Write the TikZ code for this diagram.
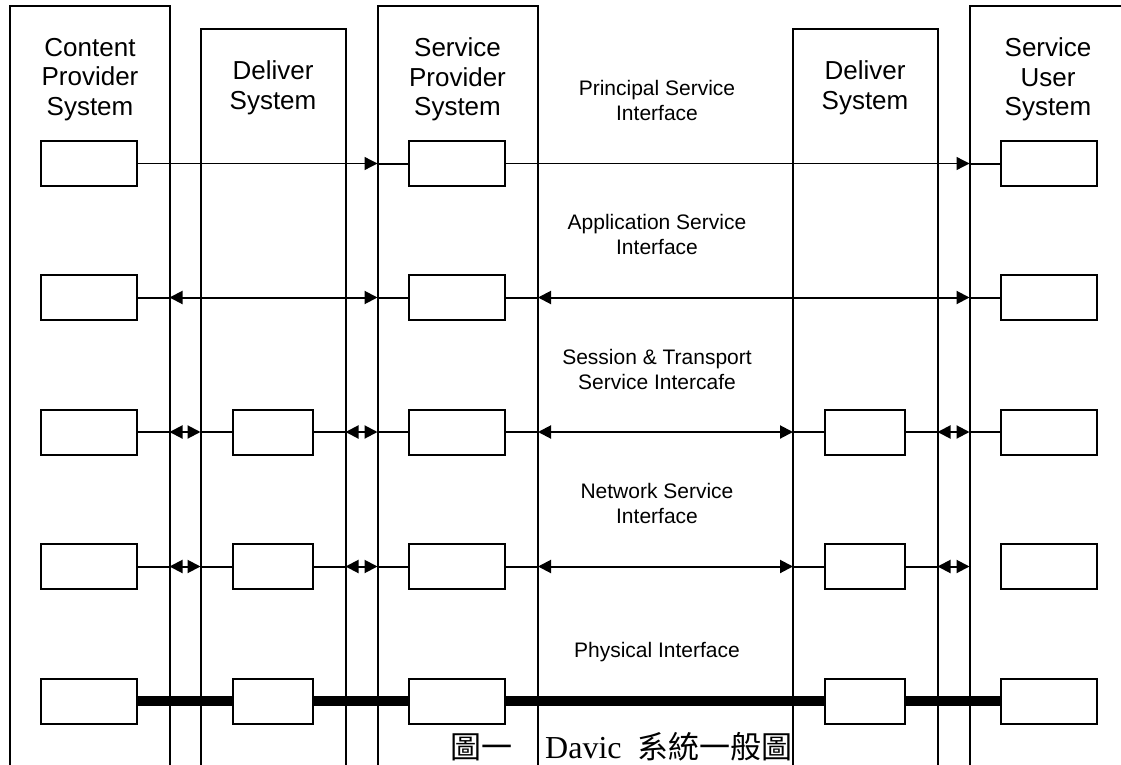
\documentclass[tikz,border=0pt]{standalone}
\usepackage{fontspec}
\setmainfont{Liberation Sans}
\newfontfamily\latinserif{Liberation Serif}
\newfontfamily\cjk{Noto Sans CJK TC}
\usetikzlibrary{arrows.meta}

\begin{document}
\begin{tikzpicture}[x=1pt, y=-1pt,
  frame/.style={draw, line width=2pt, anchor=north west, inner sep=0pt, outer sep=0pt, minimum height=820pt},
  unit/.style={draw, fill=white, line width=2pt, inner sep=0pt, outer sep=0pt, minimum height=45pt},
  wide/.style={unit, minimum width=96pt},
  narrow/.style={unit, minimum width=80pt},
  head/.style={align=center, font=\fontsize{26}{29.5}\selectfont, inner sep=0pt},
  iface/.style={align=center, font=\fontsize{21}{25}\selectfont, inner sep=0pt},
  link/.style={line width=2pt},
  thinlink/.style={line width=1.3pt},
  oneway/.style={-{Triangle[length=13pt,width=13pt]}},
  twoway/.style={{Triangle[length=13pt,width=13pt]}-{Triangle[length=13pt,width=13pt]}},
  bus/.style={line width=10pt}
]
\useasboundingbox (0,0) rectangle (1121,765);
\clip (0,0) rectangle (1121,765);

% system columns
\node[frame, minimum width=160pt]   (cp) at (9.5,6)   {};
\node[frame, minimum width=145pt]   (dl) at (200.5,29) {};
\node[frame, minimum width=160.5pt] (sp) at (377.5,6) {};
\node[frame, minimum width=144.5pt] (dr) at (793,29)  {};
\node[frame, minimum width=300pt]   (su) at (969.5,6) {};

% column titles
\node[head] (tcp) at (90,79.5)   {Content\\Provider\\System};
\node[head] (tdl) at (273,88)    {Deliver\\System};
\node[head] (tsp) at (457.5,79.5) {Service\\Provider\\System};
\node[head] (tdr) at (865,88)    {Deliver\\System};
\node[head] (tsu) at (1048,79.5) {Service\\User\\System};

% interface layers
\foreach \r/\y in {1/163.5, 2/297.5, 3/432, 4/566.5, 5/701} {
  \node[wide] (c\r) at (89,\y)   {};
  \node[wide] (s\r) at (457,\y)  {};
  \node[wide] (u\r) at (1049,\y) {};
}
\foreach \r/\y in {3/432, 4/566.5, 5/701} {
  \node[narrow] (d\r) at (273,\y) {};
  \node[narrow] (e\r) at (865,\y) {};
}

% interface names
\node[iface] (l1) at (657,100.9) {Principal Service\\Interface};
\node[iface] (l2) at (657,234.9) {Application Service\\Interface};
\node[iface] (l3) at (657,369.4) {Session \& Transport\\Service Intercafe};
\node[iface] (l4) at (657,503.9) {Network Service\\Interface};
\node[iface, anchor=base] (l5) at (657,657) {Physical Interface};

% principal service interface
\draw[thinlink, oneway] (c1.east) -- (c1.east -| sp.west);
\draw[link] (c1.east -| sp.west) -- (s1.west);
\draw[thinlink, oneway] (s1.east) -- (s1.east -| su.west);
\draw[link] (s1.east -| su.west) -- (u1.west);

% application service interface
\draw[link] (c2.east) -- (c2.east -| cp.east);
\draw[link, twoway] (c2.east -| cp.east) -- (c2.east -| sp.west);
\draw[link] (s2.west -| sp.west) -- (s2.west);
\draw[link] (s2.east) -- (s2.east -| sp.east);
\draw[link, twoway] (s2.east -| sp.east) -- (s2.east -| su.west);
\draw[link] (u2.west -| su.west) -- (u2.west);

% session/transport and network service interfaces
\foreach \r in {3,4} {
  \draw[link] (c\r.east) -- (c\r.east -| cp.east);
  \draw[link, twoway] (c\r.east -| cp.east) -- (c\r.east -| dl.west);
  \draw[link] (d\r.west -| dl.west) -- (d\r.west);
  \draw[link] (d\r.east) -- (d\r.east -| dl.east);
  \draw[link, twoway] (d\r.east -| dl.east) -- (d\r.east -| sp.west);
  \draw[link] (s\r.west -| sp.west) -- (s\r.west);
  \draw[link] (s\r.east) -- (s\r.east -| sp.east);
  \draw[link, twoway] (s\r.east -| sp.east) -- (s\r.east -| dr.west);
  \draw[link] (e\r.west -| dr.west) -- (e\r.west);
  \draw[link] (e\r.east) -- (e\r.east -| dr.east);
  \draw[link, twoway] (e\r.east -| dr.east) -- (e\r.east -| su.west);
}
\draw[link] (u3.west -| su.west) -- (u3.west);

% physical interface
\draw[bus] (c5.east) -- (d5.west);
\draw[bus] (d5.east) -- (s5.west);
\draw[bus] (s5.east) -- (e5.west);
\draw[bus] (e5.east) -- (u5.west);

% caption
\node[anchor=base west, inner sep=0pt, font=\cjk\fontsize{31}{31}\selectfont] (cap1) at (450,758) {圖一};
\node[anchor=base west, inner sep=0pt, font=\latinserif\fontsize{32}{32}\selectfont] (cap2) at (545,758) {Davic};
\node[anchor=base west, inner sep=0pt, font=\cjk\fontsize{31}{31}\selectfont] (cap3) at (637,758) {系統一般圖};
\end{tikzpicture}
\end{document}
